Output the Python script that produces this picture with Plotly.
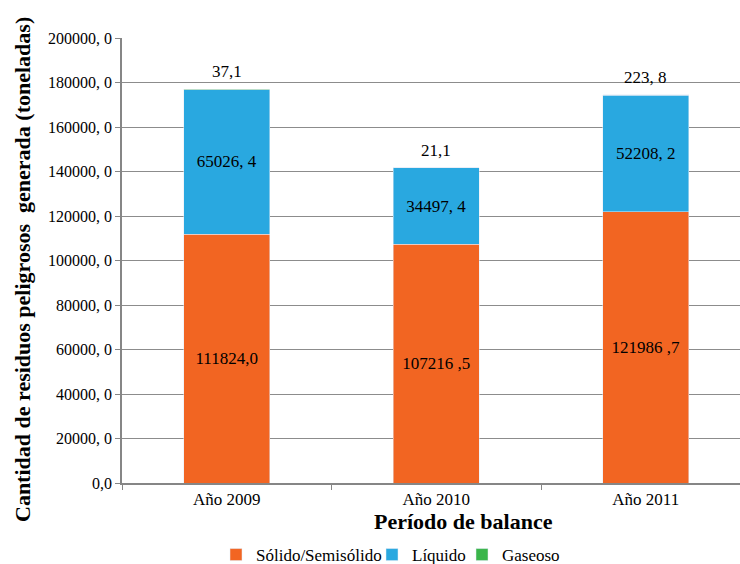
import plotly.graph_objects as go

categories = ["Año 2009", "Año 2010", "Año 2011"]
solido = [111824.0, 107216.5, 121986.7]
liquido = [65026.4, 34497.4, 52208.2]
gaseoso = [37.1, 21.1, 223.8]
solido_labels = ["111824,0", "107216 ,5", "121986 ,7"]
liquido_labels = ["65026, 4", "34497, 4", "52208, 2"]
gaseoso_labels = ["37,1", "21,1", "223, 8"]
tick_vals = [0, 20000, 40000, 60000, 80000, 100000, 120000, 140000, 160000, 180000, 200000]
tick_text = ["0,0", "20000, 0", "40000, 0", "60000, 0", "80000, 0", "100000, 0",
             "120000, 0", "140000, 0", "160000, 0", "180000, 0", "200000, 0"]

FONT = "Liberation Serif"
W, H = 740, 564
L, T, B = 122, 38, 81
PW, PH = W - L, H - T - B

fig = go.Figure()
fig.add_trace(go.Bar(name="Sólido/Semisólido", x=categories, y=solido, text=solido_labels,
                     textposition="inside", insidetextanchor="middle", marker_color="#F26522",
                     textfont=dict(color="black", size=17, family=FONT), width=0.41,
                     textangle=0, legend="legend", showlegend=True))
fig.add_trace(go.Bar(name="Líquido", x=categories, y=liquido, text=liquido_labels,
                     textposition="inside", insidetextanchor="middle", marker_color="#29A8E0",
                     textfont=dict(color="black", size=17, family=FONT), width=0.41,
                     textangle=0, legend="legend2", showlegend=True))
fig.add_trace(go.Bar(name="Gaseoso", x=categories, y=gaseoso, marker_color="#3AB54A",
                     width=0.41, legend="legend3", showlegend=True))

totals = [s + l + g for s, l, g in zip(solido, liquido, gaseoso)]
for c, t, lab in zip(categories, totals, gaseoso_labels):
    fig.add_annotation(x=c, y=t, text=lab, showarrow=False, yanchor="bottom", yshift=6,
                       font=dict(size=17, family=FONT, color="black"))

fig.add_annotation(text="<b>Período de balance</b>", xref="paper", yref="paper",
                   x=(463 - L) / PW, y=-(521 - (H - B)) / PH, xanchor="center",
                   yanchor="middle", showarrow=False, font=dict(size=22, family=FONT, color="black"))
fig.add_annotation(text="<b>Cantidad de residuos peligrosos  generada (toneladas)</b>",
                   xref="paper", yref="paper", x=-(L - 22) / PW, y=((H - B) - 270) / PH,
                   xanchor="center", yanchor="middle", textangle=-90, showarrow=False,
                   font=dict(size=22, family=FONT, color="black"))

leg_common = dict(orientation="h", xref="container", yref="container", y=1 - 537 / H,
                  xanchor="left", yanchor="top", font=dict(size=17, family=FONT),
                  itemwidth=30, bgcolor="rgba(0,0,0,0)", visible=True)

fig.update_layout(
    barmode="stack",
    width=W, height=H,
    margin=dict(l=L, r=0, t=T, b=B, autoexpand=False),
    plot_bgcolor="white", paper_bgcolor="white",
    font=dict(family=FONT, size=15, color="black"),
    hovermode=False,
    showlegend=True,
    legend=dict(x=216 / W, **leg_common),
    legend2=dict(x=372 / W, **leg_common),
    legend3=dict(x=462 / W, **leg_common),
    xaxis=dict(range=[-0.5, -0.5 + PW / 209.5], showline=True, linecolor="#868686", linewidth=1.5,
               ticks="outside", tickson="boundaries", tickcolor="#868686", ticklen=5,
               tickfont=dict(size=17, family=FONT), automargin=False),
    yaxis=dict(range=[0, 200000], tickvals=tick_vals, ticktext=tick_text,
               showline=True, linecolor="#868686", linewidth=1.5, ticks="outside",
               tickcolor="#868686", ticklen=5, showgrid=True, gridcolor="#8c8c8c", gridwidth=1,
               zeroline=False, tickfont=dict(size=16, family=FONT), automargin=False),
)

fig.write_html("out.html", config={"displayModeBar": False},
               post_script="document.body.style.margin='0';")
